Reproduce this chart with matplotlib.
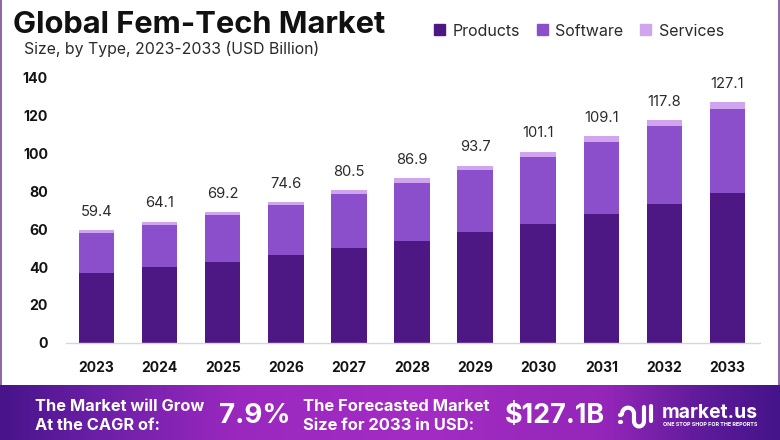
import numpy as np
import matplotlib
matplotlib.use("Agg")
import matplotlib.pyplot as plt
from matplotlib.patches import Rectangle, Patch
from matplotlib.colors import LinearSegmentedColormap

years = ["2023","2024","2025","2026","2027","2028","2029","2030","2031","2032","2033"]
totals = [59.4,64.1,69.2,74.6,80.5,86.9,93.7,101.1,109.1,117.8,127.1]
products = [36.9,39.9,42.9,46.4,50.0,54.0,58.6,63.0,68.2,73.5,79.4]
software = [21.0,22.4,24.7,26.2,28.6,30.7,32.5,35.4,37.9,40.9,44.4]
services = [1.5,1.8,1.6,2.0,1.9,2.2,2.6,2.7,3.0,3.4,3.3]
yticks = [0,20,40,60,80,100,120,140]
colors = ["#4d1784","#8b4fcb","#d1a5ee"]
names = ["Products","Software","Services"]

W, H = 780, 440
FONT = "Inter"
fig = plt.figure(figsize=(W/100, H/100), dpi=100, facecolor="white")

def fx(x): return x/W
def fy(y): return 1-y/H

# frame + banner (pixel-coordinate background axes)
bg = fig.add_axes([0,0,1,1], zorder=0)
bg.set_xlim(0,W); bg.set_ylim(H,0); bg.axis("off")
bg.add_patch(Rectangle((0,0),2,388,color="#8f6aa5",lw=0))
bg.add_patch(Rectangle((778,0),2,388,color="#8f6aa5",lw=0))
cmap = LinearSegmentedColormap.from_list("b",[(0,"#47148a"),(0.12,"#6a1fa6"),(0.3,"#9a28bf"),
    (0.55,"#a32cc4"),(0.78,"#9326b8"),(0.9,"#5f1b9b"),(1,"#45148a")])
bg.imshow(np.linspace(0,1,400).reshape(1,-1),extent=(0,W,440,385),cmap=cmap,aspect="auto",zorder=1)
bg.set_xlim(0,W); bg.set_ylim(H,0)

bkw = dict(color="white",family=FONT,fontweight="bold",va="center",zorder=3)
bg.text(35,406.5,"The Market will Grow",fontsize=11.8,**bkw)
bg.text(35,426,"At the CAGR of:",fontsize=11.8,**bkw)
bg.text(219,416,"7.9%",fontsize=20,**bkw)
bg.text(303,406.5,"The Forecasted Market",fontsize=11.9,**bkw)
bg.text(303,426,"Size for 2033 in USD:",fontsize=11.9,**bkw)
bg.text(505,416,"$127.1B",fontsize=19.4,**bkw)
bg.text(662,413,"market.us",fontsize=13.9,**bkw)
bg.text(663,424.5,"ONE STOP SHOP FOR THE REPORTS",color="white",family=FONT,fontweight="bold",fontsize=3.9,va="center",zorder=3)
# logo
lk = dict(color="white",lw=3.0,solid_capstyle="round",zorder=3)
t = np.linspace(np.pi,0,30)
bg.plot(628+6*np.cos(t),414+7*np.sin(-t)*0.9,**lk)
bg.plot([634,634],[414,421],**lk)
bg.plot(639+5*np.cos(t),421-6*np.sin(-t)*0.9,**lk)
bg.plot([644,644],[407,421],**lk)
bg.plot([651,651],[406,421],**lk)
bg.plot([620,621],[415,415],**lk)
bg.plot([620,621],[422,422],**lk)

# titles
fig.text(fx(13),fy(25),"Global Fem-Tech Market",family=FONT,fontweight="bold",fontsize=22.2,color="#111111",va="center")
fig.text(fx(24),fy(49),"Size, by Type, 2023-2033 (USD Billion)",family=FONT,fontsize=11.4,color="#2a2a2a",va="center")

# chart
left,right,top,bottom = 66,760,78,342.7
ax = fig.add_axes([fx(left),fy(bottom),(right-left)/W,(bottom-top)/H],zorder=2)
ax.patch.set_alpha(0)
x = np.arange(len(years))
ax.set_xlim(-0.483,10.515); ax.set_ylim(0,140)
base = np.zeros(len(years))
bw = 0.564
for vals,c,n in zip([products,software,services],colors,names):
    ax.bar(x,vals,bw,bottom=base,color=c,label=n,lw=0)
    base = base+np.array(vals)
for xi,b,v in zip(x,base,totals):
    ax.annotate(f"{v}",(xi,b),xytext=(0,8),textcoords="offset points",
                ha="center",va="bottom",family=FONT,fontsize=10.6,color="#2b2b2b")
for s in ["top","right","left"]:
    ax.spines[s].set_visible(False)
ax.spines["bottom"].set_color("#d9d3df"); ax.spines["bottom"].set_linewidth(1)
ax.set_xticks(x,years); ax.set_yticks(yticks)
ax.tick_params(length=0)
ax.tick_params(axis="x",pad=13)
ax.tick_params(axis="y",pad=13)
for l in ax.get_xticklabels():
    l.set_family(FONT); l.set_fontweight("bold"); l.set_fontsize(10); l.set_color("#141414")
for l in ax.get_yticklabels():
    l.set_family(FONT); l.set_fontweight("bold"); l.set_fontsize(10.2); l.set_color("#141414")

leg = fig.legend(handles=[Patch(color=c,label=n) for c,n in zip(colors,names)],
    loc="center left",bbox_to_anchor=(fx(434),fy(31)),ncol=3,frameon=False,borderpad=0,borderaxespad=0,
    handlelength=0.69,handleheight=0.69,handletextpad=0.45,columnspacing=1.08,
    prop={"family":FONT,"size":11.5})
for t_ in leg.get_texts(): t_.set_color("#2a2a2a")

fig.savefig("out.png",dpi=100)
